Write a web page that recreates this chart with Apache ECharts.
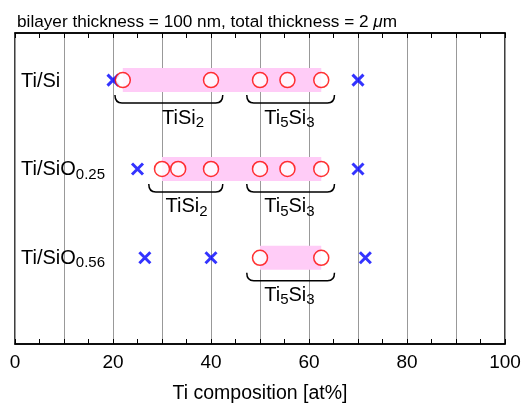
<!DOCTYPE html>
<html><head><meta charset="utf-8">
<script src="https://cdn.jsdelivr.net/npm/echarts@6/dist/echarts.min.js"></script>
<style>html,body{margin:0;padding:0;background:#fff}#c{width:525px;height:403px}</style>
</head><body><div id="c"></div>
<script>
// ---- data ----
const rowMain = ['Ti/Si', 'Ti/SiO', 'Ti/SiO'];
const rowSub = ['', '0.25', '0.56'];
// [Ti at%, row]
const circles = [[22,0],[40,0],[50,0],[55.6,0],[62.5,0],
                 [30,1],[33.3,1],[40,1],[50,1],[55.6,1],[62.5,1],
                 [50,2],[62.5,2]];
const crosses = [[20,0],[70,0],[25,1],[70,1],[26.5,2],[40,2],[71.5,2]];
// [row, from, to]
const bands = [[0,22,62.5],[1,30,62.5],[2,50,62.5]];
const braces = [[0,20.4,42.4],[0,47.3,65.2],[1,27.3,42.4],[1,47.3,65.2],[2,47.3,65.2]];
// [row, x, phase]
const phaseLabels = [[0,34.3,'{m|TiSi}{s|2}'],[0,56,'{m|Ti}{s|5}{m|Si}{s|3}'],
                     [1,35,'{m|TiSi}{s|2}'],[1,56,'{m|Ti}{s|5}{m|Si}{s|3}'],
                     [2,56,'{m|Ti}{s|5}{m|Si}{s|3}']];
const xTicks = [0,20,40,60,80,100];

const FF = 'Liberation Sans, Arial, Helvetica, sans-serif';
const rich = {
  m: {fontSize: 20, fontFamily: FF, color: '#000', lineHeight: 24},
  s: {fontSize: 15, fontFamily: FF, color: '#000', lineHeight: 16, padding: [9,0,0,0]}
};

const chart = echarts.init(document.getElementById('c'), null, {renderer: 'canvas'});
const axisCommon = {
  type: 'value', min: 0, max: 100, interval: 10
};
chart.setOption({
  animation: false,
  backgroundColor: '#fff',
  title: {
    text: 'bilayer thickness = 100 nm, total thickness = 2 {i|μ}m',
    left: 12, top: 9,
    textStyle: {fontSize: 17.2, fontWeight: 'normal', fontFamily: FF, color: '#000',
      rich: {i: {fontSize: 17.2, fontStyle: 'italic', fontFamily: FF, color: '#000'}}}
  },
  grid: {left: 15, right: 20, top: 33, bottom: 59, show: true, borderColor: '#000', borderWidth: 1.5,
    backgroundColor: 'transparent', containLabel: false, outerBoundsMode: 'none'},
  xAxis: [
    Object.assign({}, axisCommon, {
      position: 'bottom',
      name: 'Ti composition [at%]', nameLocation: 'middle', nameGap: 40,
      nameTextStyle: {fontSize: 19.5, fontFamily: FF, color: '#000'},
      axisLine: {show: true, onZero: false, lineStyle: {color: '#000', width: 1.5}},
      axisTick: {show: true, inside: true, length: 5, lineStyle: {color: '#000', width: 1}},
      minorTick: {show: true, splitNumber: 2, length: 5, lineStyle: {color: '#000', width: 1}},
      axisLabel: {fontSize: 19, fontFamily: FF, color: '#000', margin: 9,
        formatter: v => xTicks.indexOf(v) >= 0 ? String(v) : ''},
      splitLine: {show: true, lineStyle: {color: '#999', width: 1}}
    }),
    Object.assign({}, axisCommon, {
      position: 'top',
      axisLine: {show: true, onZero: false, lineStyle: {color: '#000', width: 1.5}},
      axisTick: {show: true, inside: true, length: 5, lineStyle: {color: '#000', width: 1}},
      minorTick: {show: true, splitNumber: 2, length: 5, lineStyle: {color: '#000', width: 1}},
      axisLabel: {show: false},
      splitLine: {show: false}
    })
  ],
  yAxis: {type: 'value', min: -0.53, max: 2.97, inverse: true, show: false, splitLine: {show: false}},
  series: [
    {
      type: 'custom', name: 'bands', xAxisIndex: 0, z: 1,
      data: bands,
      renderItem: (params, api) => {
        const p1 = api.coord([api.value(1), api.value(0)]);
        const p2 = api.coord([api.value(2), api.value(0)]);
        return {type: 'rect', shape: {x: p1[0], y: p1[1] - 12, width: p2[0] - p1[0], height: 24},
          style: {fill: '#ffccf7'}};
      }
    },
    {
      type: 'custom', name: 'braces', z: 2,
      data: braces,
      renderItem: (params, api) => {
        const p1 = api.coord([api.value(1), api.value(0)]);
        const p2 = api.coord([api.value(2), api.value(0)]);
        const t = p1[1] + 15, b = p1[1] + 23, r = 7;
        const x1 = p1[0], x2 = p2[0];
        return {type: 'path', shape: {pathData:
          `M${x1},${t} Q${x1},${b} ${x1 + r},${b} L${x2 - r},${b} Q${x2},${b} ${x2},${t}`},
          style: {stroke: '#000', lineWidth: 1.5, fill: null}};
      }
    },
    {
      type: 'custom', name: 'phases', z: 3,
      data: phaseLabels,
      renderItem: (params, api) => {
        const d = phaseLabels[params.dataIndex];
        const p = api.coord([d[1], d[0]]);
        return {type: 'text', x: p[0], y: p[1] + 38,
          style: {text: d[2], rich: rich, align: 'center', verticalAlign: 'middle'}};
      }
    },
    {
      type: 'custom', name: 'rows', z: 3,
      data: rowMain.map((m, i) => [i]),
      renderItem: (params, api) => {
        const i = params.dataIndex;
        const p = api.coord([0, i]);
        const txt = '{m|' + rowMain[i] + '}' + (rowSub[i] ? '{s|' + rowSub[i] + '}' : '');
        return {type: 'text', x: p[0] + 6, y: p[1] + 1,
          style: {text: txt, rich: rich, align: 'left', verticalAlign: 'middle'}};
      }
    },
    {
      type: 'scatter', name: 'cross', z: 4,
      data: crosses.map(d => [d[0], d[1]]),
      symbol: 'path://M0,0L10,10M10,0L0,10', symbolSize: 11,
      itemStyle: {color: 'none', borderColor: '#0000ff', borderWidth: 3}
    },
    {
      type: 'scatter', name: 'circle', z: 5,
      data: circles.map(d => [d[0], d[1]]),
      symbol: 'circle', symbolSize: 15,
      itemStyle: {color: '#fff', borderColor: '#ff0000', borderWidth: 1.5}
    }
  ]
});
</script></body></html>
